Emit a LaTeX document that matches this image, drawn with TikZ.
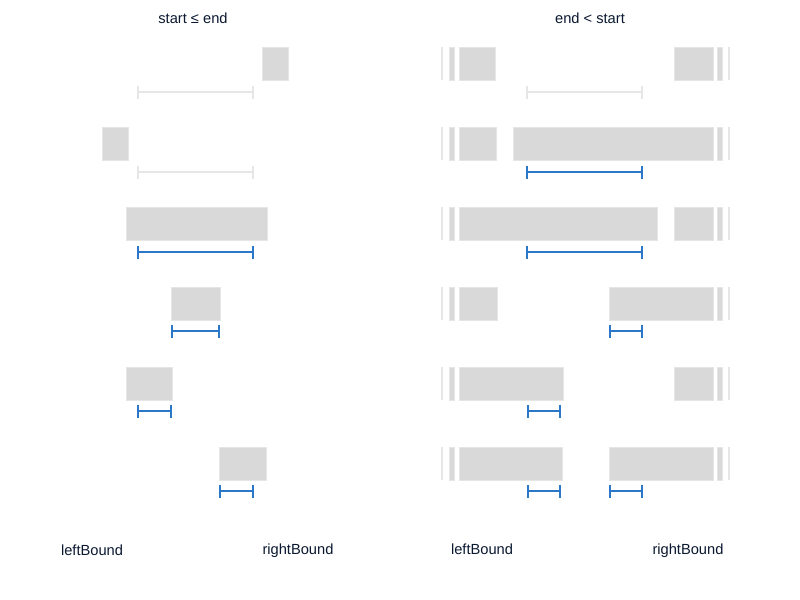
\documentclass[tikz,border=0pt]{standalone}
\usepackage{fontspec}
\setmainfont{Liberation Sans}
\usetikzlibrary{arrows.meta}
\definecolor{boxfill}{HTML}{D9D9D9}
\definecolor{boxedge}{HTML}{E6E6E6}
\definecolor{rangeblue}{HTML}{2B78C8}
\definecolor{rangegray}{HTML}{E6E6E6}
\definecolor{labelnavy}{HTML}{0A1830}
\tikzset{
  seg/.style={fill=boxfill, draw=boxedge, line width=0.75pt},
  thinbar/.style={fill=boxedge, draw=none},
  activerange/.style={draw=rangeblue, line width=1.5pt, {Bar[width=9.75pt]}-{Bar[width=9.75pt]}},
  idlerange/.style={draw=rangegray, line width=1.5pt, {Bar[width=9.75pt]}-{Bar[width=9.75pt]}},
  lbl/.style={text=labelnavy, font=\fontsize{11}{13}\selectfont, inner sep=0pt}
}
\begin{document}
\begin{tikzpicture}[x=0.75pt,y=-0.75pt]
\useasboundingbox (0,0) rectangle (800,600);
% titles
\node[lbl] (t1) at (193,18) {start ≤ end};
\node[lbl] (t2) at (590,18) {end < start};
% bottom labels
\node[lbl] (lb1) at (92,550) {leftBound};
\node[lbl] (rb1) at (298,551) {rightBound};
\node[lbl] (lb2) at (482,549) {leftBound};
\node[lbl] (rb2) at (688,551) {rightBound};

% ---- left column ----
\fill[seg] (262,47) rectangle (288,80);
\draw[idlerange] (137,92) -- (254,92);
\fill[seg] (102,127) rectangle (128,160);
\draw[idlerange] (137,172) -- (254,172);
\fill[seg] (126,207) rectangle (267,240);
\draw[activerange] (137,252) -- (254,252);
\fill[seg] (171,287) rectangle (220,320);
\draw[activerange] (171,331) -- (220,331);
\fill[seg] (126,367) rectangle (172,400);
\draw[activerange] (137,411) -- (172,411);
\fill[seg] (219,447) rectangle (266,480);
\draw[activerange] (219,491) -- (254,491);

% ---- right column: side bars on every row ----
\foreach \y in {47,127,207,287,367,447}{
  \fill[thinbar] (441,\y) rectangle (443.3,\y+33);
  \fill[seg] (449,\y) rectangle (454.5,\y+33);
  \fill[seg] (717.3,\y) rectangle (722.5,\y+33);
  \fill[thinbar] (728,\y) rectangle (730.3,\y+33);
}
% row 1
\fill[seg] (459,47) rectangle (495,80);
\fill[seg] (674,47) rectangle (713,80);
\draw[idlerange] (526,92) -- (643,92);
% row 2
\fill[seg] (459,127) rectangle (496,160);
\fill[seg] (513,127) rectangle (713,160);
\draw[activerange] (526,172) -- (643,172);
% row 3
\fill[seg] (459,207) rectangle (657,240);
\fill[seg] (674,207) rectangle (713,240);
\draw[activerange] (526,252) -- (643,252);
% row 4
\fill[seg] (459,287) rectangle (497,320);
\fill[seg] (609,287) rectangle (713,320);
\draw[activerange] (609,331) -- (643,331);
% row 5
\fill[seg] (459,367) rectangle (563,400);
\fill[seg] (674,367) rectangle (713,400);
\draw[activerange] (527,411) -- (561,411);
% row 6
\fill[seg] (459,447) rectangle (562,480);
\fill[seg] (609,447) rectangle (713,480);
\draw[activerange] (527,491) -- (561,491);
\draw[activerange] (609,491) -- (643,491);
\end{tikzpicture}
\end{document}
